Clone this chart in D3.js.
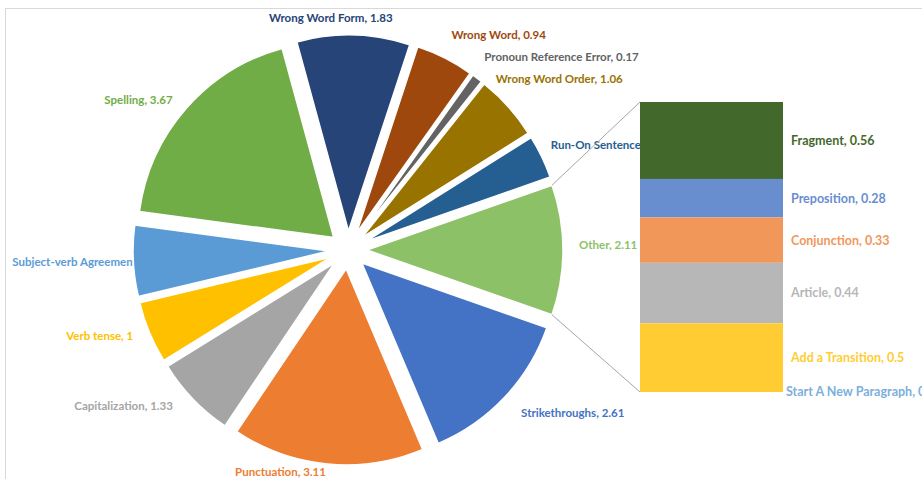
<!DOCTYPE html>
<html><head><meta charset="utf-8">
<script src="https://cdn.jsdelivr.net/npm/d3@7"></script>
<style>
body{margin:0;background:#fff}
svg{display:block}
text{font-family:Lato,"Open Sans",sans-serif;font-weight:700}
text.pl{font-size:11.5px}
text.bl{font-size:12.5px}
</style></head>
<body><svg id="c" width="922" height="479"></svg>
<script>
// ---- data ----
const pieCategories = ["Strikethroughs","Punctuation","Capitalization","Verb tense","Subject-verb Agreement","Spelling","Wrong Word Form","Wrong Word","Pronoun Reference Error","Wrong Word Order","Run-On Sentence","Other"];
const pieValues = [2.61,3.11,1.33,1,1.15,3.67,1.83,0.94,0.17,1.06,0.7,2.11];
const barCategories = ["Fragment","Preposition","Conjunction","Article","Add a Transition","Start A New Paragraph"];
const barValues = [0.56,0.28,0.33,0.44,0.5,0];

// ---- styles / layout ----
const pieColors = ["#4472C4","#ED7D31","#A5A5A5","#FFC000","#5B9BD5","#70AD47","#264478","#9E480E","#636363","#997300","#255E91","#8CC168"];
const barColors = ["#43682B","#698ED0","#F1975A","#B7B7B7","#FFCD33","#7CAFDD"];
// label nudges (layout only): [dx, dy, anchor]
const labelNudge = [[9,9,"start"],[-46,-2,"middle"],[-13,0,"end"],[-7,0,"end"],[-111,0,"start"],[-6,-2,"end"],[-23,-7,"middle"],[2,-14,"start"],[1,-13,"start"],[-20,-21,"start"],[0,-7,"start"],[6,-5,"start"]];

const svg = d3.select("#c");
const cx = 348, cy = 250, R = 196, explode = 19, labelR = R + explode + 10;

svg.append("rect").attr("x",5.5).attr("y",8.5).attr("width",1000).attr("height",1000)
  .attr("fill","none").attr("stroke","#d9d9d9");

const total = d3.sum(pieValues);
const otherIdx = pieCategories.indexOf("Other");
const before = d3.sum(pieValues.slice(0, otherIdx));
// place "Other" centred at 3 o'clock
const start = Math.PI/2 - (before + pieValues[otherIdx]/2)/total*2*Math.PI;
const pie = d3.pie().sort(null).value(d=>d).startAngle(start).endAngle(start + 2*Math.PI);
const arcs = pie(pieValues);
const arc = d3.arc().innerRadius(0).outerRadius(R);

const g = svg.append("g").attr("transform",`translate(${cx},${cy})`);
const mid = a => (a.startAngle + a.endAngle)/2;
const off = a => [Math.sin(mid(a))*explode, -Math.cos(mid(a))*explode];

// labels (drawn beneath slices)
g.selectAll("text.pl").data(arcs).join("text").attr("class","pl")
  .attr("x", (a,i)=>Math.sin(mid(a))*labelR + labelNudge[i][0])
  .attr("y", (a,i)=>-Math.cos(mid(a))*labelR + labelNudge[i][1])
  .attr("dy","0.35em")
  .attr("text-anchor",(a,i)=>labelNudge[i][2])
  .attr("fill",(a,i)=>pieColors[i])
  .text((a,i)=>`${pieCategories[i]}, ${pieValues[i]}`);

g.selectAll("path.sl").data(arcs).join("path").attr("class","sl")
  .attr("d", arc)
  .attr("transform", a=>`translate(${off(a)})`)
  .attr("fill",(a,i)=>pieColors[i])
  .attr("stroke","#fff").attr("stroke-width",1.5);

// bar of "Other"
const barX0 = 640, barX1 = 783;
const y = d3.scaleLinear().domain([0, d3.sum(barValues)]).range([102, 392]);
const cum = barValues.map((v,i)=>d3.sum(barValues.slice(0,i)));

const oa = arcs[otherIdx], oo = off(oa);
const p1 = [cx + oo[0] + Math.sin(oa.startAngle)*R, cy + oo[1] - Math.cos(oa.startAngle)*R];
const p2 = [cx + oo[0] + Math.sin(oa.endAngle)*R, cy + oo[1] - Math.cos(oa.endAngle)*R];
svg.append("line").attr("x1",p1[0]).attr("y1",p1[1]).attr("x2",barX0).attr("y2",y(0)).attr("stroke","#a6a6a6");
svg.append("line").attr("x1",p2[0]).attr("y1",p2[1]).attr("x2",barX0).attr("y2",y(d3.sum(barValues))).attr("stroke","#a6a6a6");

svg.selectAll("rect.bs").data(barValues).join("rect").attr("class","bs")
  .attr("x",barX0).attr("width",barX1-barX0)
  .attr("y",(v,i)=>y(cum[i])).attr("height",(v,i)=>y(cum[i]+v)-y(cum[i]))
  .attr("fill",(v,i)=>barColors[i]);

svg.selectAll("text.bl").data(barValues).join("text").attr("class","bl")
  .attr("x",(v,i)=> v>0 ? barX1+8 : barX1+3)
  .attr("y",(v,i)=>(y(cum[i])+y(cum[i]+v))/2).attr("dy","0.35em")
  .attr("fill",(v,i)=>barColors[i])
  .text((v,i)=>`${barCategories[i]}, ${v}`);
</script></body></html>
